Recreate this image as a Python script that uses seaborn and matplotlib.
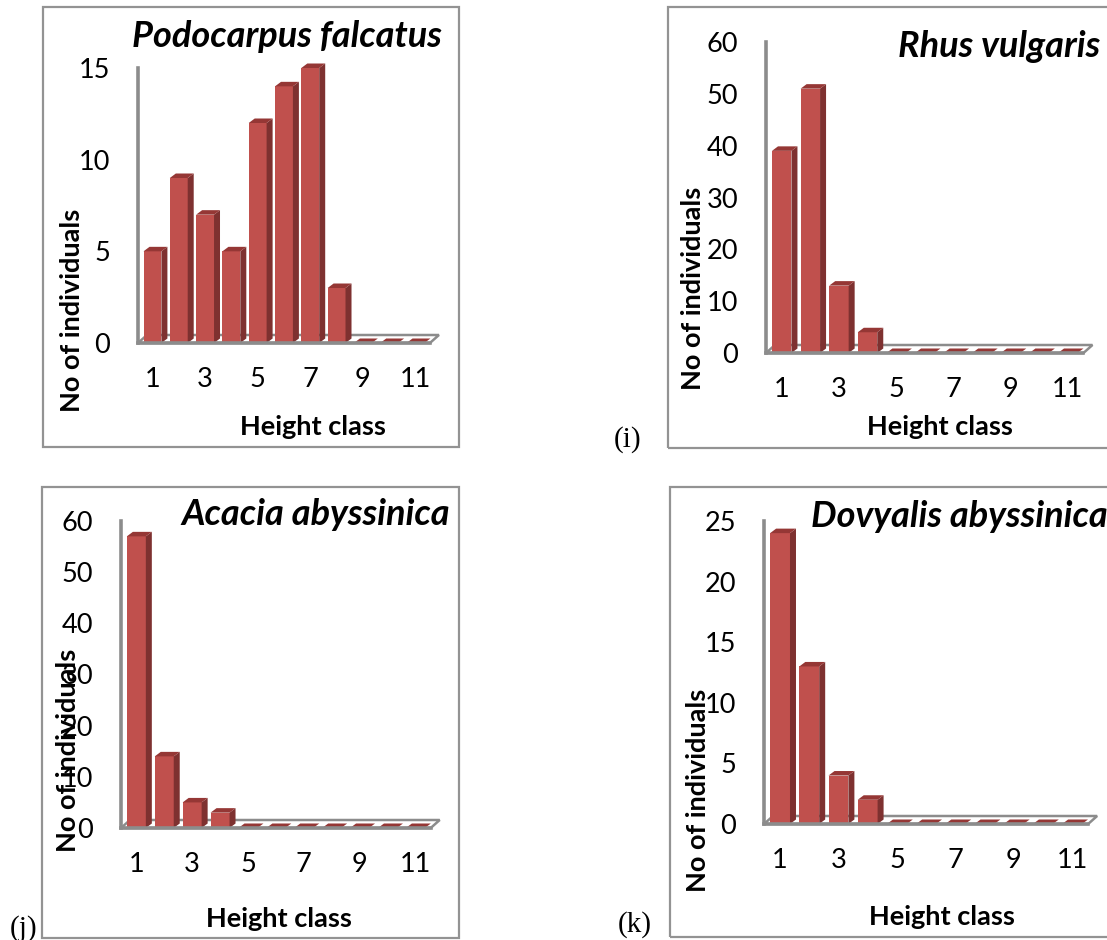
import matplotlib
matplotlib.use("Agg")
import matplotlib.pyplot as plt
import seaborn as sns
import pandas as pd
from matplotlib.patches import Polygon, Rectangle

# ---------------- data ----------------
height_class = [1, 2, 3, 4, 5, 6, 7, 8, 9, 10, 11]
podocarpus_falcatus = [5, 9, 7, 5, 12, 14, 15, 3, 0, 0, 0]
rhus_vulgaris = [39, 51, 13, 4, 0, 0, 0, 0, 0, 0, 0]
acacia_abyssinica = [57, 14, 5, 3, 0, 0, 0, 0, 0, 0, 0]
dovyalis_abyssinica = [24, 13, 4, 2, 0, 0, 0, 0, 0, 0, 0]
x_tick_labels = ["1", "3", "5", "7", "9", "11"]
species_titles = ["Podocarpus falcatus", "Rhus vulgaris",
                  "Acacia abyssinica", "Dovyalis abyssinica"]
y_ticks = [[0, 5, 10, 15], [0, 10, 20, 30, 40, 50, 60],
           [0, 10, 20, 30, 40, 50, 60], [0, 5, 10, 15, 20, 25]]
panel_tags = ["", "(i)", "(j)", "(k)"]
x_label = "Height class"
y_label = "No of individuals"

# ---------------- layout (pixels) ----------------
W, H = 1107, 940
layout = [
    dict(axis_x=138, zero_y=343, top_y=68, spacing=26.3, box=(43, 7, 459, 447),
         ylab=(72, 310), xlab=(313, 427), title=(287, 47, "center"), tag=None),
    dict(axis_x=766, zero_y=353, top_y=42, spacing=28.6, box=(668, 7, 1120, 448),
         ylab=(693, 288), xlab=(940, 427), title=(898, 57, "left"), tag=(628, 440)),
    dict(axis_x=121, zero_y=828, top_y=521, spacing=27.9, box=(42, 487, 459, 938),
         ylab=(68, 750), xlab=(279, 919), title=(316, 525, "center"), tag=(24, 929)),
    dict(axis_x=764, zero_y=824, top_y=521, spacing=29.2, box=(670, 487, 1120, 937),
         ylab=(698, 790), xlab=(942, 917), title=(811, 527, "left"), tag=(635, 925)),
]
series = [podocarpus_falcatus, rhus_vulgaris, acacia_abyssinica, dovyalis_abyssinica]

FRONT = "#C0504D"
SIDE = "#7E3130"
TOP = "#953735"
GRAY = "#8c8c8c"

sns.set_theme(style="white")
plt.rcParams["font.family"] = ["Lato", "DejaVu Sans"]

fig = plt.figure(figsize=(W / 100, H / 100), dpi=100)


def fx(x):
    return x / W


def fy(y):
    return 1 - y / H


XMIN, XMAX = -0.55, 10.55

for vals, title, yt, tag, L in zip(series, species_titles, y_ticks, panel_tags, layout):
    left = L["axis_x"]
    width = (XMAX - XMIN) * L["spacing"]
    height = L["zero_y"] - L["top_y"]
    ax = fig.add_axes([fx(left), fy(L["zero_y"]), width / W, height / H])
    ax.patch.set_alpha(0)

    df = pd.DataFrame({x_label: height_class, y_label: vals})
    sns.barplot(data=df, x=x_label, y=y_label, color=FRONT, saturation=1,
                width=0.68, linewidth=0, ax=ax, zorder=4)
    ymax = yt[-1]
    ax.set_xlim(XMIN, XMAX)
    ax.set_ylim(0, ymax)

    xpd = (XMAX - XMIN) / width
    ypd = ymax / height
    dx, dy = 6 * xpd, 4.5 * ypd
    fdx, fdy = 9 * xpd, 8 * ypd

    # floor
    ax.add_patch(Polygon([(XMIN, 0), (XMAX, 0), (XMAX + fdx, fdy), (XMIN + fdx, fdy)],
                         closed=True, fc="white", ec=GRAY, lw=1.8, clip_on=False, zorder=2))

    # 3D faces derived from the seaborn bars
    for p in list(ax.patches):
        if not hasattr(p, "get_x") or p.get_width() > 5:
            continue
        x0, w, h = p.get_x(), p.get_width(), p.get_height()
        ax.add_patch(Polygon([(x0 + w, 0), (x0 + w + dx, dy), (x0 + w + dx, h + dy), (x0 + w, h)],
                             closed=True, fc=SIDE, ec="none", clip_on=False, zorder=4))
        ax.add_patch(Polygon([(x0, h), (x0 + dx, h + dy), (x0 + w + dx, h + dy), (x0 + w, h)],
                             closed=True, fc=TOP, ec="none", clip_on=False, zorder=4))
        p.set_clip_on(False)

    for s in ["top", "right"]:
        ax.spines[s].set_visible(False)
    for s in ["left", "bottom"]:
        ax.spines[s].set_color(GRAY)
        ax.spines[s].set_linewidth(2.6)
        ax.spines[s].set_zorder(5)

    ax.set_xticks(range(0, 11, 2))
    ax.set_xticklabels(x_tick_labels)
    ax.set_yticks(yt)
    ax.set_yticklabels([str(v) for v in yt])
    ax.tick_params(axis="both", length=0, labelsize=19.5, colors="black")
    ax.tick_params(axis="y", pad=20)
    ax.tick_params(axis="x", pad=17)

    ax.set_ylabel(y_label, fontsize=19.5, fontweight="bold", color="black")
    ax.yaxis.label.set_va("center")
    ax.yaxis.label.set_ha("center")
    ax.yaxis.set_label_coords((L["ylab"][0] - left) / width, (L["zero_y"] - L["ylab"][1]) / height)
    ax.set_xlabel(x_label, fontsize=19.5, fontweight="bold", color="black")
    ax.xaxis.label.set_va("center")
    ax.xaxis.set_label_coords((L["xlab"][0] - left) / width, (L["zero_y"] - L["xlab"][1]) / height)

    tx, ty, tha = L["title"]
    ax.text((tx - left) / width, (L["zero_y"] - ty) / height, title, transform=ax.transAxes,
            ha=tha, va="baseline", fontsize=26, fontstyle="italic", fontweight="bold",
            color="black", clip_on=False)

    bx0, by0, bx1, by1 = L["box"]
    fig.add_artist(Rectangle((fx(bx0), fy(by1)), (bx1 - bx0) / W, (by1 - by0) / H,
                             transform=fig.transFigure, fill=False, ec="#939393", lw=1.6))
    if L["tag"] is not None:
        fig.text(fx(L["tag"][0]), fy(L["tag"][1]), tag, family="Liberation Serif",
                 fontsize=21, ha="center", va="center", color="black")

fig.savefig("out.png", dpi=100)
